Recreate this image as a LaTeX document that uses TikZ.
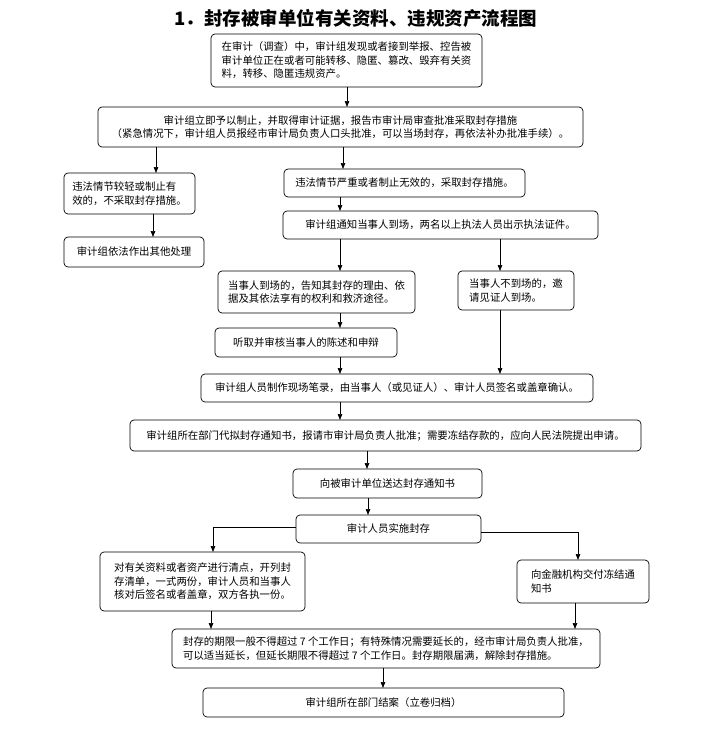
\documentclass[tikz,border=0pt]{standalone}
\usepackage{fontspec}
\setmainfont{Noto Sans CJK SC}
\usetikzlibrary{arrows.meta}
\newcommand\mybox[7]{%
  \node[box,#7,minimum width={(#4-#2)*1pt},minimum height={(#5-#3)*1pt},anchor=north west] (#1) at (#2,#3) {#6};}
\begin{document}
\begin{tikzpicture}[x=1pt,y=-1pt,
  box/.style={draw=black,line width=0.7pt,rounded corners=4pt,inner sep=1pt,outer sep=0pt,
    font=\fontsize{10.4}{13.5}\selectfont},
  arr/.style={line width=0.7pt,-{Triangle[length=6pt,width=4.5pt]}}]
\useasboundingbox[fill=white] (0,0) rectangle (715,731);
\node[font=\fontsize{18.5}{20}\selectfont\bfseries] (title) at (356,18) {1．封存被审单位有关资料、违规资产流程图};
\mybox{b1}{211}{34}{482}{87}{在审计（调查）中，审计组发现或者接到举报、控告被\\审计单位正在或者可能转移、隐匿、篡改、毁弃有关资\\料，转移、隐匿违规资产。}{align=left}
\mybox{b2}{98}{107}{583}{147}{审计组立即予以制止，并取得审计证据，报告市审计局审查批准采取封存措施\\（紧急情况下，审计组人员报经市审计局负责人口头批准，可以当场封存，再依法补办批准手续）。}{align=center}
\mybox{b3}{64}{173}{195}{214}{违法情节较轻或制止有\\效的，不采取封存措施。}{align=left}
\mybox{b5}{64}{237}{204}{267}{审计组依法作出其他处理}{align=center}
\mybox{b4}{284}{169}{525}{197}{违法情节严重或者制止无效的，采取封存措施。}{align=center}
\mybox{b6}{283}{211}{598}{239}{审计组通知当事人到场，两名以上执法人员出示执法证件。}{align=center}
\mybox{b7}{218}{271}{415}{313}{当事人到场的，告知其封存的理由、依\\据及其依法享有的权利和救济途径。}{align=left}
\mybox{b8}{458}{271}{574}{310}{当事人不到场的，邀\\请见证人到场。}{align=left}
\mybox{b9}{215}{328}{397}{357}{听取并审核当事人的陈述和申辩}{align=center}
\mybox{b10}{201}{374}{593}{402}{审计组人员制作现场笔录，由当事人（或见证人）、审计人员签名或盖章确认。}{align=center}
\mybox{b11}{130}{420}{641}{451}{审计组所在部门代拟封存通知书，报请市审计局负责人批准；需要冻结存款的，应向人民法院提出申请。}{align=center}
\mybox{b12}{293}{469}{482}{498}{向被审计单位送达封存通知书}{align=center}
\mybox{b13}{296}{515}{481}{543}{审计人员实施封存}{align=center}
\mybox{b14}{100}{552}{305}{611}{对有关资料或者资产进行清点，开列封\\存清单，一式两份，审计人员和当事人\\核对后签名或者盖章，双方各执一份。}{align=left}
\mybox{b15}{517}{560}{649}{603}{向金融机构交付冻结通\\知书}{align=left}
\mybox{b16}{172}{629}{600}{668}{封存的期限一般不得超过 7 个工作日；有特殊情况需要延长的，经市审计局负责人批准，\\可以适当延长，但延长期限不得超过 7 个工作日。封存期限届满，解除封存措施。}{align=left}
\mybox{b17}{203}{688}{564}{717}{审计组所在部门结案（立卷归档）}{align=center}
% column coordinates
\foreach \c in {347,156,343,153,340,500,367,368,213,578,211,575,383}{\coordinate (x\c) at (\c,0);}
\draw[arr] (b1.south -| x347) -- (b2.north -| x347);
\draw[arr] (b2.south -| x156) -- (b3.north -| x156);
\draw[arr] (b2.south -| x343) -- (b4.north -| x343);
\draw[arr] (b3.south -| x153) -- (b5.north -| x153);
\draw[arr] (b4.south -| x340) -- (b6.north -| x340);
\draw[arr] (b6.south -| x340) -- (b7.north -| x340);
\draw[arr] (b6.south -| x500) -- (b8.north -| x500);
\draw[arr] (b7.south -| x340) -- (b9.north -| x340);
\draw[arr] (b9.south -| x340) -- (b10.north -| x340);
\draw[arr] (b8.south -| x500) -- (b10.north -| x500);
\draw[arr] (b10.south -| x340) -- (b11.north -| x340);
\draw[arr] (b11.south -| x367) -- (b12.north -| x367);
\draw[arr] (b12.south -| x368) -- (b13.north -| x368);
\draw[arr] ([yshift=2pt]b13.west) -| (b14.north -| x213);
\draw[arr] ([yshift=-3pt]b13.east) -| (b15.north -| x578);
\draw[arr] (b14.south -| x211) -- (b16.north -| x211);
\draw[arr] (b15.south -| x575) -- (b16.north -| x575);
\draw[arr] (b16.south -| x383) -- (b17.north -| x383);
\end{tikzpicture}
\end{document}
